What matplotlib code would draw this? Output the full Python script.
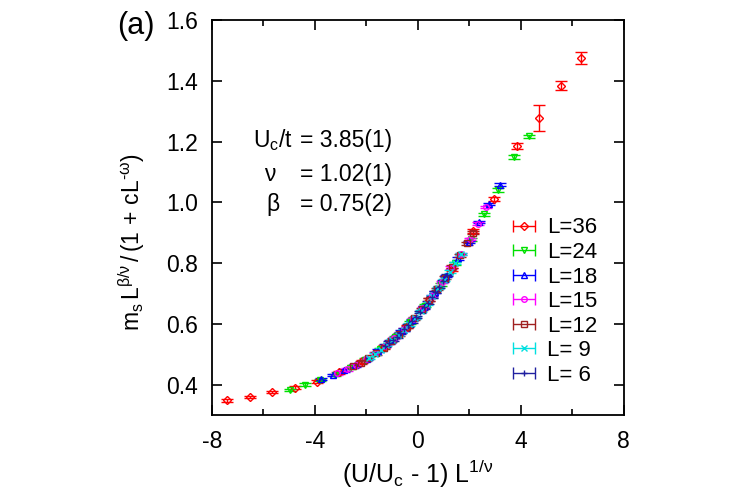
import numpy as np
import matplotlib
matplotlib.use("Agg")
import matplotlib.pyplot as plt

plt.rcParams['font.family'] = ['Liberation Sans', 'DejaVu Sans']
plt.rcParams['mathtext.fontset'] = 'custom'
plt.rcParams['mathtext.rm'] = 'Liberation Sans'
plt.rcParams['mathtext.it'] = 'Liberation Sans'
plt.rcParams['mathtext.bf'] = 'Liberation Sans:bold'
plt.rcParams['axes.unicode_minus'] = False

labels = ['L=36', 'L=24', 'L=18', 'L=15', 'L=12', 'L= 9', 'L= 6']
colors = ['#ff0000', '#00e000', '#0000ff', '#ff00ff', '#a02020', '#00e0e0', '#2020a0']
markers = ['D', 'v', '^', 'o', 's', 'x', '+']

x36 = [-7.40, -6.53, -5.66, -4.79, -3.92, -3.05, -2.18, -1.31, -0.44, 0.44, 1.31, 2.14, 2.95, 3.84, 4.70, 5.55, 6.33]
y36 = [0.348, 0.360, 0.376, 0.390, 0.410, 0.440, 0.476, 0.525, 0.590, 0.680, 0.780, 0.905, 1.012, 1.184, 1.277, 1.384, 1.475]
e36 = [0.004, 0.004, 0.004, 0.004, 0.004, 0.004, 0.004, 0.004, 0.005, 0.005, 0.005, 0.006, 0.007, 0.010, 0.043, 0.015, 0.020]

x24 = [-4.97, -4.38, -3.80, -3.21, -2.63, -2.05, -1.46, -0.88, -0.29, 0.29, 0.88, 1.46, 2.05, 2.56, 3.11, 3.73, 4.31]
y24 = [0.383, 0.400, 0.415, 0.432, 0.455, 0.482, 0.518, 0.557, 0.605, 0.660, 0.728, 0.800, 0.878, 0.960, 1.040, 1.148, 1.218]
e24 = [0.004, 0.004, 0.004, 0.004, 0.004, 0.004, 0.004, 0.004, 0.004, 0.004, 0.005, 0.005, 0.005, 0.005, 0.006, 0.007, 0.005]

x18 = [-3.75, -3.31, -2.87, -2.43, -1.99, -1.55, -1.10, -0.66, -0.22, 0.22, 0.66, 1.10, 1.55, 1.99, 2.37, 2.76, 3.18]
y18 = [0.418, 0.432, 0.447, 0.463, 0.485, 0.512, 0.542, 0.575, 0.612, 0.655, 0.705, 0.758, 0.815, 0.870, 0.935, 0.995, 1.058]
e18 = [0.004] * 17

x15 = [-3.14, -2.77, -2.40, -2.03, -1.66, -1.29, -0.92, -0.55, -0.18, 0.18, 0.55, 0.92, 1.29, 1.66, 2.03, 2.35, 2.64]
y15 = [0.437, 0.450, 0.465, 0.483, 0.503, 0.527, 0.553, 0.582, 0.615, 0.652, 0.692, 0.738, 0.785, 0.830, 0.880, 0.930, 0.985]
e15 = [0.004] * 17

x12 = [-2.52, -2.22, -1.92, -1.63, -1.33, -1.04, -0.74, -0.44, -0.15, 0.15, 0.44, 0.74, 1.04, 1.33, 1.63, 1.90, 2.14]
y12 = [0.460, 0.472, 0.487, 0.503, 0.522, 0.543, 0.565, 0.590, 0.618, 0.648, 0.680, 0.715, 0.752, 0.788, 0.825, 0.865, 0.900]
e12 = [0.004] * 17

x9 = [-1.90, -1.68, -1.45, -1.23, -1.01, -0.78, -0.56, -0.34, -0.11, 0.11, 0.34, 0.56, 0.78, 1.01, 1.23, 1.45, 1.68]
y9 = [0.488, 0.500, 0.515, 0.530, 0.546, 0.563, 0.580, 0.598, 0.620, 0.642, 0.665, 0.690, 0.717, 0.745, 0.772, 0.800, 0.830]
e9 = [0.004] * 17

x6 = [-1.28, -1.13, -0.98, -0.83, -0.68, -0.53, -0.38, -0.23, -0.08, 0.08, 0.23, 0.38, 0.53, 0.68, 0.83, 0.98, 1.13]
y6 = [0.528, 0.538, 0.548, 0.558, 0.570, 0.582, 0.595, 0.608, 0.622, 0.638, 0.654, 0.670, 0.688, 0.705, 0.722, 0.740, 0.760]
e6 = [0.004] * 17

series = [(x36, y36, e36), (x24, y24, e24), (x18, y18, e18), (x15, y15, e15),
          (x12, y12, e12), (x9, y9, e9), (x6, y6, e6)]

fig = plt.figure(figsize=(7.4, 4.94), dpi=100)
ax = fig.add_axes([0.2865, 0.160, 0.5565, 0.7995])

handles = []
for (xs, ys, es), lab, c, m in zip(series, labels, colors, markers):
    ax.errorbar(xs, ys, yerr=es, fmt=m, color=c, mfc='none', mec=c, ms=4,
                mew=1.0, elinewidth=1.0, capsize=4, capthick=1.0, linestyle='none')
    h = ax.errorbar([np.nan], [np.nan], xerr=[0.1], fmt=m, color=c, mfc='none', mec=c,
                    ms=4, mew=1.0, elinewidth=1.0, capsize=4, capthick=1.0,
                    linestyle='none', label=lab)
    handles.append(h)

ax.set_xlim(-8, 8)
ax.set_ylim(0.3, 1.6)
ax.set_xticks([-8, -4, 0, 4, 8])
ax.set_xticks([-6, -2, 2, 6], minor=True)
ax.set_yticks([0.4, 0.6, 0.8, 1.0, 1.2, 1.4, 1.6])
ax.set_yticklabels(['0.4', '0.6', '0.8', '1.0', '1.2', '1.4', '1.6'])
ax.tick_params(which='both', direction='in', top=True, right=True, labelsize=16.5, width=1.2)
ax.tick_params(which='major', length=7)
ax.tick_params(axis='y', which='major', pad=10)
ax.tick_params(axis='x', which='major', pad=11)
ax.tick_params(which='minor', length=4)
for s in ax.spines.values():
    s.set_linewidth(1.3)

ax.set_xlabel(r'$\mathregular{(U/U_c\ \text{-}\ 1)\ L^{1/\nu}}$', fontsize=18, labelpad=3)
ax.set_ylabel(r'$\mathregular{m_s\,L^{\beta/\nu}\,/\,(1\,+\,cL^{\text{-}\omega})}$', fontsize=16.5)
ax.yaxis.set_label_coords(-0.158, 0.437)

fs = 16.5
ax.text(0.0995, 0.696, r'$\mathregular{U_c/t}$', transform=ax.transAxes, fontsize=fs, va='center', ha='left')
ax.text(0.126, 0.608, 'ν', transform=ax.transAxes, fontsize=fs, va='center', ha='left')
ax.text(0.133, 0.532, 'β', transform=ax.transAxes, fontsize=fs, va='center', ha='left')
ax.text(0.2136, 0.696, '= 3.85(1)', transform=ax.transAxes, fontsize=fs, va='center', ha='left')
ax.text(0.2136, 0.608, '= 1.02(1)', transform=ax.transAxes, fontsize=fs, va='center', ha='left')
ax.text(0.2136, 0.532, '= 0.75(2)', transform=ax.transAxes, fontsize=fs, va='center', ha='left')

fig.text(117 / 740, 1 - 26 / 494, '(a)', fontsize=22, va='center', ha='left')

ax.legend(handles=handles, loc='upper left', bbox_to_anchor=(0.735, 0.50), frameon=False,
          fontsize=16, borderpad=0, labelspacing=0.16, handlelength=0.85, handletextpad=0.6,
          borderaxespad=0)

fig.savefig('out.png', dpi=100)
